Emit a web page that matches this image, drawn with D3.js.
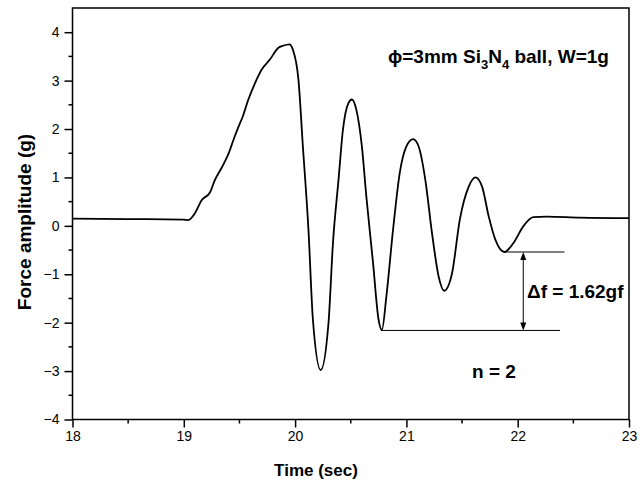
<!DOCTYPE html>
<html>
<head>
<meta charset="utf-8">
<script src="https://cdn.jsdelivr.net/npm/d3@7"></script>
<style>
  body { margin: 0; background: #fff; }
  svg { font-family: "Liberation Sans", Arial, sans-serif; }
</style>
</head>
<body>
<svg id="chart"></svg>
<script>
// force trace
const time = [18, 18.5, 19.0, 19.04, 19.10, 19.16, 19.235, 19.28, 19.34, 19.40, 19.45, 19.49, 19.53, 19.58, 19.64, 19.70, 19.775, 19.85, 19.89, 19.95, 19.98, 20.03, 20.07, 20.12, 20.16, 20.23, 20.30, 20.34, 20.39, 20.43, 20.48, 20.51, 20.55, 20.60, 20.64, 20.70, 20.75, 20.78, 20.82, 20.88, 20.94, 21.00, 21.06, 21.11, 21.17, 21.23, 21.29, 21.34, 21.41, 21.48, 21.56, 21.62, 21.68, 21.74, 21.80, 21.88, 21.96, 22.05, 22.14, 22.26, 22.56, 23.0];
const force = [0.15, 0.14, 0.13, 0.12, 0.26, 0.53, 0.69, 0.95, 1.20, 1.48, 1.80, 2.04, 2.26, 2.61, 2.95, 3.23, 3.44, 3.68, 3.72, 3.75, 3.64, 3.02, 1.64, -0.08, -1.94, -2.98, -2.01, -0.36, 0.95, 1.99, 2.54, 2.61, 2.40, 1.64, 0.61, -0.76, -1.94, -2.15, -1.46, -0.08, 1.09, 1.64, 1.79, 1.64, 0.95, -0.15, -1.05, -1.34, -0.98, 0.13, 0.81, 1.00, 0.81, 0.19, -0.29, -0.54, -0.36, -0.01, 0.18, 0.19, 0.17, 0.16];

const xTicks = [18, 19, 20, 21, 22, 23];
const yTicks = [-4, -3, -2, -1, 0, 1, 2, 3, 4];

// delta-f annotation: the two reference levels and the arrow position
const levelUpper = { from: 21.88, to: 22.42, value: -0.54 };
const levelLower = { from: 20.77, to: 22.38, value: -2.16 };
const arrowTime = 22.05;

const w = 641, h = 493;
const margin = { top: 8, right: 12, bottom: 73.5, left: 72.5 };

const svg = d3.select('#chart')
  .attr('width', w)
  .attr('height', h);

const xScale = d3.scaleLinear()
  .domain([18, 23])
  .range([margin.left, w - margin.right]);
const yScale = d3.scaleLinear()
  .domain([-4, 4.5])
  .range([h - margin.bottom, margin.top]);

// axes
const xAxis = d3.axisBottom(xScale).tickValues(xTicks).tickSize(8).tickPadding(4).tickFormat(d3.format('d'));
const yAxis = d3.axisLeft(yScale).tickValues(yTicks).tickSize(8).tickPadding(5).tickFormat(d3.format('d'));

const gx = svg.append('g')
  .attr('transform', `translate(0, ${h - margin.bottom})`)
  .call(xAxis);
const gy = svg.append('g')
  .attr('transform', `translate(${margin.left}, 0)`)
  .call(yAxis);

[gx, gy].forEach(g => {
  g.select('.domain').remove();
  g.selectAll('line').attr('stroke', '#000').attr('stroke-width', 1.5);
  g.selectAll('text').attr('font-size', 14).attr('fill', '#000')
    .attr('font-family', '"Liberation Sans", Arial, sans-serif');
});

// minor ticks
svg.append('g')
  .attr('transform', `translate(0, ${h - margin.bottom})`)
  .selectAll('line')
  .data(d3.range(18.5, 23, 1))
  .join('line')
    .attr('x1', d => xScale(d)).attr('x2', d => xScale(d))
    .attr('y1', 0).attr('y2', 4)
    .attr('stroke', '#000').attr('stroke-width', 1.5);
svg.append('g')
  .attr('transform', `translate(${margin.left}, 0)`)
  .selectAll('line')
  .data(d3.range(-3.5, 4.5, 1))
  .join('line')
    .attr('y1', d => yScale(d)).attr('y2', d => yScale(d))
    .attr('x1', 0).attr('x2', -4)
    .attr('stroke', '#000').attr('stroke-width', 1.5);

// frame
svg.append('rect')
  .attr('x', margin.left).attr('y', margin.top)
  .attr('width', w - margin.left - margin.right)
  .attr('height', h - margin.top - margin.bottom)
  .attr('fill', 'none')
  .attr('stroke', '#000')
  .attr('stroke-width', 1.5);

// curve
const line = d3.line()
  .x((d, i) => xScale(time[i]))
  .y(d => yScale(d))
  .curve(d3.curveMonotoneX);

svg.append('path')
  .datum(force)
  .attr('d', line)
  .attr('fill', 'none')
  .attr('stroke', '#000')
  .attr('stroke-width', 1.8);

// annotation lines
[levelUpper, levelLower].forEach(l => {
  svg.append('line')
    .attr('x1', xScale(l.from)).attr('x2', xScale(l.to))
    .attr('y1', yScale(l.value)).attr('y2', yScale(l.value))
    .attr('stroke', '#000').attr('stroke-width', 1);
});

const ax = xScale(arrowTime);
const yTop = yScale(levelUpper.value), yBot = yScale(levelLower.value);
svg.append('line')
  .attr('x1', ax).attr('x2', ax)
  .attr('y1', yTop + 6).attr('y2', yBot - 6)
  .attr('stroke', '#000').attr('stroke-width', 1);
svg.append('path')
  .attr('d', `M${ax},${yTop} L${ax - 3},${yTop + 8} L${ax + 3},${yTop + 8} Z`)
  .attr('fill', '#000');
svg.append('path')
  .attr('d', `M${ax},${yBot} L${ax - 3},${yBot - 8} L${ax + 3},${yBot - 8} Z`)
  .attr('fill', '#000');

// axis titles
svg.append('text')
  .attr('x', 316).attr('y', 476)
  .attr('text-anchor', 'middle')
  .attr('font-size', 17).attr('font-weight', 'bold')
  .text('Time (sec)');
svg.append('text')
  .attr('transform', `translate(31, 222) rotate(-90)`)
  .attr('text-anchor', 'middle')
  .attr('font-size', 19).attr('font-weight', 'bold')
  .text('Force amplitude (g)');

// labels inside the plot
const title = svg.append('text')
  .attr('x', 388).attr('y', 63)
  .attr('font-size', 19).attr('font-weight', 'bold');
title.append('tspan').text('\u03D5=3mm Si');
title.append('tspan').attr('dy', 6).attr('font-size', 13).text('3');
title.append('tspan').attr('dy', -6).text('N');
title.append('tspan').attr('dy', 6).attr('font-size', 13).text('4');
title.append('tspan').attr('dy', -6).text(' ball, W=1g');

svg.append('text')
  .attr('x', 527).attr('y', 298)
  .attr('font-size', 19).attr('font-weight', 'bold')
  .text('\u0394f = 1.62gf');

svg.append('text')
  .attr('x', 472).attr('y', 378)
  .attr('font-size', 19).attr('font-weight', 'bold')
  .text('n = 2');
</script>
</body>
</html>
